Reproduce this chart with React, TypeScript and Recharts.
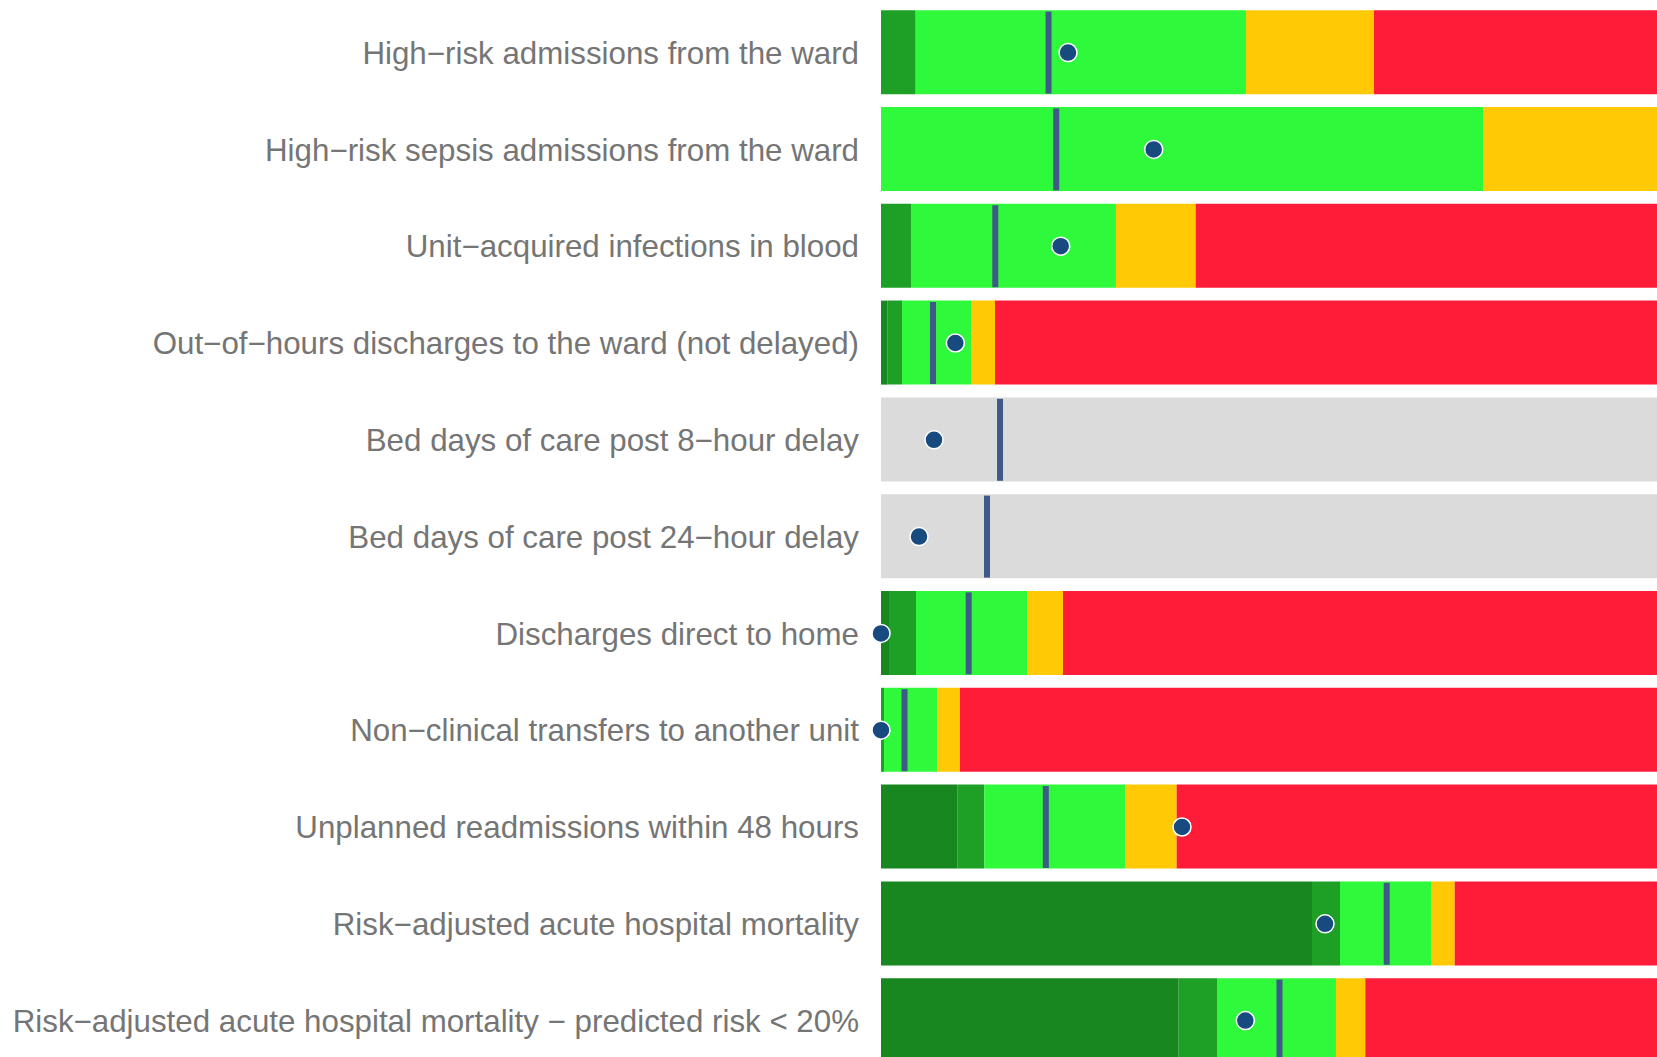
import { BarChart, Bar, XAxis, YAxis, ReferenceDot } from "recharts";

// indicator names, top to bottom
const labels = [
  "High\u2212risk admissions from the ward",
  "High\u2212risk sepsis admissions from the ward",
  "Unit\u2212acquired infections in blood",
  "Out\u2212of\u2212hours discharges to the ward (not delayed)",
  "Bed days of care post 8\u2212hour delay",
  "Bed days of care post 24\u2212hour delay",
  "Discharges direct to home",
  "Non\u2212clinical transfers to another unit",
  "Unplanned readmissions within 48 hours",
  "Risk\u2212adjusted acute hospital mortality",
  "Risk\u2212adjusted acute hospital mortality \u2212 predicted risk < 20%",
];

// band widths (% of the scale) for each row
const darkGreen = [0, 0, 0, 0.86, 0, 0, 1.03, 0, 9.88, 55.54, 38.36];
const midGreen = [4.47, 0, 3.87, 1.85, 0, 0, 3.48, 0.39, 3.44, 3.61, 4.94];
const brightGreen = [42.57, 77.58, 26.41, 8.89, 0, 0, 14.39, 6.91, 18.21, 11.73, 15.33];
const amber = [16.49, 22.42, 10.27, 3.09, 0, 0, 4.55, 2.88, 6.57, 3.05, 3.78];
const red = [36.47, 0, 59.45, 85.31, 0, 0, 76.55, 89.82, 61.9, 26.07, 37.59];
const grey = [0, 0, 0, 0, 100, 100, 0, 0, 0, 0, 0];

// national median and this unit's value
const median = [21.59, 22.58, 14.73, 6.7, 15.34, 13.66, 11.3, 3.03, 21.24, 65.17, 51.35];
const unitValue = [24.1, 35.14, 23.16, 9.58, 6.83, 4.9, 0, 0, 38.79, 57.22, 46.95];

const rows = labels.map((label, i) => ({
  label,
  darkGreen: darkGreen[i],
  midGreen: midGreen[i],
  brightGreen: brightGreen[i],
  amber: amber[i],
  red: red[i],
  grey: grey[i],
}));

const BAR = 84;

const MedianMark = (props: any) => (
  <rect x={props.cx - 3} y={props.cy - BAR / 2 + 1} width={6} height={BAR - 2} fill="#3f5a88" />
);

export default function App() {
  return (
    <div style={{ position: "absolute", left: 0, top: 0, width: 1657, height: 1057, overflow: "hidden", background: "#fff" }}>
      <BarChart
        width={1657}
        height={1072}
        data={rows}
        layout="vertical"
        margin={{ top: 4.2, right: 0, bottom: 3, left: 0 }}
        barSize={BAR}
      >
        <XAxis type="number" domain={[0, 100]} hide />
        <YAxis
          type="category"
          dataKey="label"
          width={881}
          axisLine={false}
          tickLine={false}
          tickSize={0}
          tickMargin={22}
          interval={0}
          tick={{ fill: "#757575", fontSize: 31.3, fontFamily: "Liberation Sans, Arial, sans-serif" }}
        />
        <Bar dataKey="darkGreen" stackId="s" fill="#18871f" isAnimationActive={false} />
        <Bar dataKey="midGreen" stackId="s" fill="#1ea027" isAnimationActive={false} />
        <Bar dataKey="brightGreen" stackId="s" fill="#2ff93b" isAnimationActive={false} />
        <Bar dataKey="amber" stackId="s" fill="#ffc905" isAnimationActive={false} />
        <Bar dataKey="red" stackId="s" fill="#ff1c38" isAnimationActive={false} />
        <Bar dataKey="grey" stackId="s" fill="#dbdbdb" isAnimationActive={false} />
        {labels.map((label, i) => (
          <ReferenceDot key={"m" + i} x={median[i]} y={label} r={1} shape={MedianMark} ifOverflow="visible" />
        ))}
        {labels.map((label, i) => (
          <ReferenceDot
            key={"d" + i}
            x={unitValue[i]}
            y={label}
            r={9}
            fill="#174a7e"
            stroke="#ffffff"
            strokeWidth={1.5}
            ifOverflow="visible"
          />
        ))}
      </BarChart>
    </div>
  );
}
